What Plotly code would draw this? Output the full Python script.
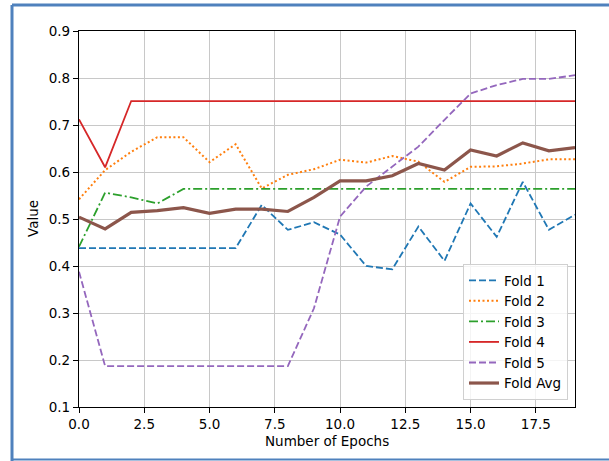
import plotly.graph_objects as go

epochs = list(range(20))
fold1 = [0.438, 0.438, 0.438, 0.438, 0.438, 0.438, 0.438, 0.530, 0.477, 0.493,
         0.467, 0.400, 0.393, 0.484, 0.411, 0.533, 0.462, 0.579, 0.477, 0.509]
fold2 = [0.542, 0.604, 0.643, 0.674, 0.674, 0.621, 0.659, 0.565, 0.594, 0.606,
         0.626, 0.620, 0.634, 0.622, 0.579, 0.611, 0.612, 0.618, 0.627, 0.627]
fold3 = [0.441, 0.556, 0.546, 0.533, 0.564, 0.564, 0.564, 0.564, 0.564, 0.564,
         0.564, 0.564, 0.564, 0.564, 0.564, 0.564, 0.564, 0.564, 0.564, 0.564]
fold4 = [0.712, 0.610, 0.751, 0.751, 0.751, 0.751, 0.751, 0.751, 0.751, 0.751,
         0.751, 0.751, 0.751, 0.751, 0.751, 0.751, 0.751, 0.751, 0.751, 0.751]
fold5 = [0.388, 0.187, 0.187, 0.187, 0.187, 0.187, 0.187, 0.187, 0.187, 0.310,
         0.505, 0.569, 0.611, 0.654, 0.711, 0.767, 0.785, 0.798, 0.798, 0.806]
fold_avg = [0.504, 0.479, 0.514, 0.518, 0.524, 0.512, 0.521, 0.521, 0.516, 0.546,
            0.581, 0.581, 0.592, 0.618, 0.604, 0.647, 0.634, 0.662, 0.645, 0.652]

x_ticks = [0, 2.5, 5, 7.5, 10, 12.5, 15, 17.5]
x_tick_labels = ["0.0", "2.5", "5.0", "7.5", "10.0", "12.5", "15.0", "17.5"]
y_ticks = [0.1, 0.2, 0.3, 0.4, 0.5, 0.6, 0.7, 0.8, 0.9]
y_tick_labels = ["0.1", "0.2", "0.3", "0.4", "0.5", "0.6", "0.7", "0.8", "0.9"]

series = [
    ("Fold 1", fold1, "#1f77b4", "7px,3px", 1.8),
    ("Fold 2", fold2, "#ff7f0e", "2px,2.5px", 2.0),
    ("Fold 3", fold3, "#2ca02c", "9px,3px,2px,3px", 1.8),
    ("Fold 4", fold4, "#d62728", "solid", 1.8),
    ("Fold 5", fold5, "#9467bd", "7px,3px", 1.8),
    ("Fold Avg", fold_avg, "#8c564b", "solid", 3.2),
]

FONT = "DejaVu Sans"
fig = go.Figure()
for name, vals, color, dash, w in series:
    fig.add_trace(go.Scatter(x=epochs, y=vals, mode="lines", name=name,
                             line=dict(color=color, dash=dash, width=w)))

W, H = 609, 461
L, R, T, B = 79, 575, 31, 407
pw, ph = R - L, B - T

def px(x):
    return (x - L) / pw

def py(y):
    return (B - y) / ph

border = "#4f81bd"
shapes = [
    dict(type="line", xref="paper", yref="paper", x0=px(12), x1=px(12), y0=py(461), y1=py(5),
         line=dict(color=border, width=3)),
    dict(type="line", xref="paper", yref="paper", x0=px(12), x1=px(640), y0=py(5), y1=py(5),
         line=dict(color=border, width=3)),
    dict(type="line", xref="paper", yref="paper", x0=px(12), x1=px(640), y0=py(459.5), y1=py(459.5),
         line=dict(color=border, width=2)),
]

fig.update_layout(
    width=W, height=H,
    margin=dict(l=L, r=W - R, t=T, b=H - B, pad=0),
    paper_bgcolor="white", plot_bgcolor="white",
    font=dict(family=FONT, size=13.5, color="black"),
    showlegend=True,
    legend=dict(x=px(568), y=py(400), xanchor="right", yanchor="bottom",
                bgcolor="rgba(255,255,255,0.8)", bordercolor="#d0d0d0", borderwidth=1,
                font=dict(family=FONT, size=13.5), itemwidth=30, tracegroupgap=0),
    shapes=shapes,
    annotations=[
        dict(text="Number of Epochs", xref="paper", yref="paper", x=0.5, y=py(441),
             xanchor="center", yanchor="middle", showarrow=False,
             font=dict(family=FONT, size=13.5)),
        dict(text="Value", xref="paper", yref="paper", x=px(33), y=0.5, textangle=-90,
             xanchor="center", yanchor="middle", showarrow=False,
             font=dict(family=FONT, size=13.5)),
    ],
)
fig.update_xaxes(range=[0, 19], tickvals=x_ticks, ticktext=x_tick_labels,
                 showgrid=True, gridcolor="#c8c8c8", gridwidth=1,
                 showline=True, linecolor="black", linewidth=1.3, mirror=True,
                 ticks="outside", ticklen=5, tickcolor="black", zeroline=False)
fig.update_yaxes(range=[0.1, 0.9], tickvals=y_ticks, ticktext=y_tick_labels,
                 showgrid=True, gridcolor="#c8c8c8", gridwidth=1,
                 showline=True, linecolor="black", linewidth=1.3, mirror=True,
                 ticks="outside", ticklen=5, tickcolor="black", zeroline=False)

fig.write_html("out.html", config={"displayModeBar": False},
               post_script="document.body.style.margin='0';document.body.style.overflow='hidden';")
